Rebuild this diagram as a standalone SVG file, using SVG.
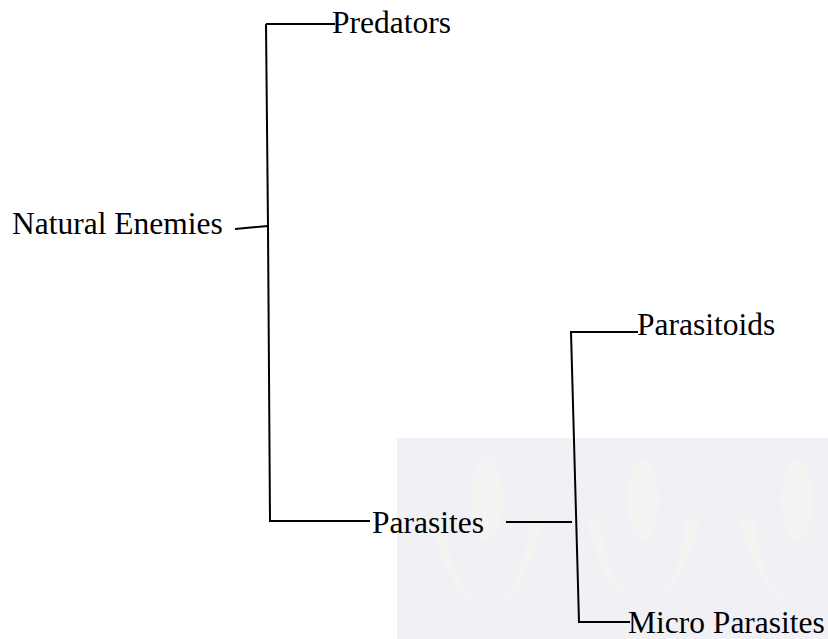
<svg xmlns="http://www.w3.org/2000/svg" width="828" height="639" viewBox="0 0 828 639">
<style>
.t{font-family:"Liberation Serif","Times New Roman",serif;font-size:31.5px;fill:#000}
.c{stroke:#000;stroke-width:2;fill:none}
.leaf{fill:#f3f3f2}
</style>
<rect width="828" height="639" fill="#fff"/>
<g id="watermark">
<rect x="397" y="438" width="431" height="201" fill="#f0f0f5"/>
<g class="leaf">
<ellipse cx="487" cy="500" rx="16" ry="42"/>
<ellipse cx="643" cy="500" rx="16" ry="42"/>
<ellipse cx="797" cy="500" rx="16" ry="42"/>
<path d="M430 520 Q450 600 487 610 Q450 590 445 520 Z"/>
<path d="M544 520 Q524 600 487 610 Q524 590 529 520 Z"/>
<path d="M586 520 Q606 600 643 610 Q606 590 601 520 Z"/>
<path d="M700 520 Q680 600 643 610 Q680 590 685 520 Z"/>
<path d="M740 520 Q760 600 797 610 Q760 590 755 520 Z"/>
</g>
</g>
<g id="connectors">
<path class="c" d="M266 24 L268 227 L270 521 L370 521"/>
<path class="c" d="M266 24 L335 24"/>
<path class="c" d="M235 229 L268 226"/>
<path class="c" d="M506 522 L572 522"/>
<path class="c" d="M638 332 L571 332 L579 622 L630 622"/>
</g>
<g id="natural-enemies"><text class="t" x="12" y="234">Natural Enemies</text></g>
<g id="predators"><text class="t" x="332" y="33">Predators</text></g>
<g id="parasites"><text class="t" x="372" y="533">Parasites</text></g>
<g id="parasitoids"><text class="t" x="637" y="335">Parasitoids</text></g>
<g id="micro-parasites"><text class="t" x="628" y="633">Micro Parasites</text></g>
</svg>
